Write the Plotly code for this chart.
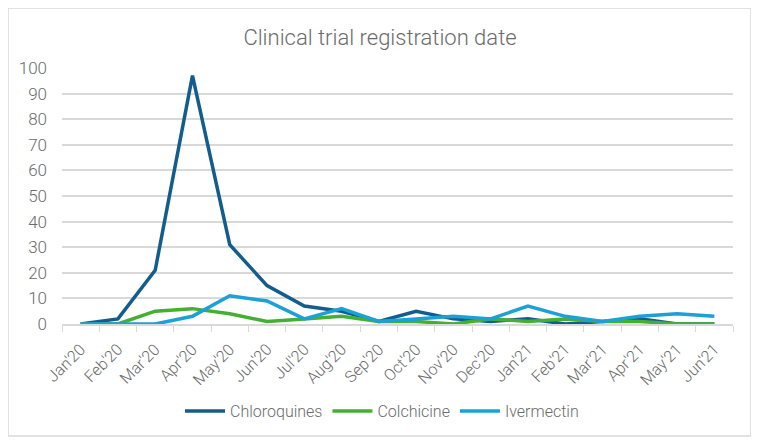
import plotly.graph_objects as go

months = ["Jan'20", "Feb'20", "Mar'20", "Apr'20", "May'20", "Jun'20", "Jul'20", "Aug'20", "Sep'20",
          "Oct'20", "Nov'20", "Dec'20", "Jan'21", "Feb'21", "Mar'21", "Apr'21", "May'21", "Jun'21"]
chloroquines = [0, 2, 21, 97, 31, 15, 7, 5, 1, 5, 2, 1, 2, 0, 1, 2, 0, 0]
colchicine = [0, 0, 5, 6, 4, 1, 2, 3, 1, 1, 0, 2, 1, 2, 1, 1, 0, 0]
ivermectin = [0, 0, 0, 3, 11, 9, 2, 6, 1, 2, 3, 2, 7, 3, 1, 3, 4, 3]

series = [("Chloroquines", chloroquines, "#135d8d"),
          ("Colchicine", colchicine, "#44b02f"),
          ("Ivermectin", ivermectin, "#1ca0d8")]

fig = go.Figure()
for name, vals, col in series:
    fig.add_trace(go.Scatter(x=months, y=vals, name=name, mode="lines",
                             line=dict(color=col, width=3.5)))

# page body has an 8px default margin; compensate so the picture lines up
OFF = 8
W, H = 759, 445
pl, pr, pt, pb = 62 - OFF, 733 - OFF, 68 - OFF, 324 - OFF
pw, ph = pr - pl, pb - pt

def px_x(p):
    return (p - OFF - pl) / pw

def px_y(p):
    return (pb - (p - OFF)) / ph

font_fam = "Roboto, Liberation Sans, sans-serif"
grey = "#6b6b6b"
fig.update_layout(
    width=W, height=H,
    margin=dict(l=pl, r=W - pr, t=pt, b=H - pb, autoexpand=False),
    paper_bgcolor="white", plot_bgcolor="white",
    font=dict(family=font_fam, color=grey, size=15, weight=300),
    title=dict(text="Clinical trial registration date", x=(380 - OFF) / W, xanchor="center",
               xref="container", y=1 - (37 - OFF) / H, yref="container", yanchor="middle",
               automargin=False,
               font=dict(size=22, color=grey, family=font_fam, weight=300)),
    showlegend=True,
    legend=dict(orientation="h", x=px_x(382), xanchor="center", y=px_y(411), yanchor="middle",
                font=dict(size=16, color=grey, weight=300), itemwidth=40,
                tracegroupgap=0),
    xaxis=dict(type="category", range=[-0.5, len(months) - 0.5], showgrid=False,
               showline=True, linecolor="#d9d9d9",
               linewidth=1.5, ticks="outside", tickson="boundaries", ticklen=6,
               tickcolor="#d9d9d9", tickangle=-45, automargin=False,
               tickfont=dict(size=16, color=grey, weight=300), ticklabelstandoff=8,
               zeroline=False),
    yaxis=dict(range=[0, 100], dtick=10, showgrid=True, gridcolor="#d9d9d9",
               gridwidth=1.5, zeroline=False, showline=False, ticks="", automargin=False,
               tickfont=dict(size=17, color=grey, weight=300), ticklabelstandoff=14),
    shapes=[dict(type="rect", xref="paper", yref="paper",
                 x0=px_x(8), x1=px_x(751),
                 y0=px_y(436), y1=px_y(8),
                 line=dict(color="#d9d9d9", width=1.5), fillcolor="rgba(0,0,0,0)",
                 layer="below")],
)

fig.write_html("out.html")
